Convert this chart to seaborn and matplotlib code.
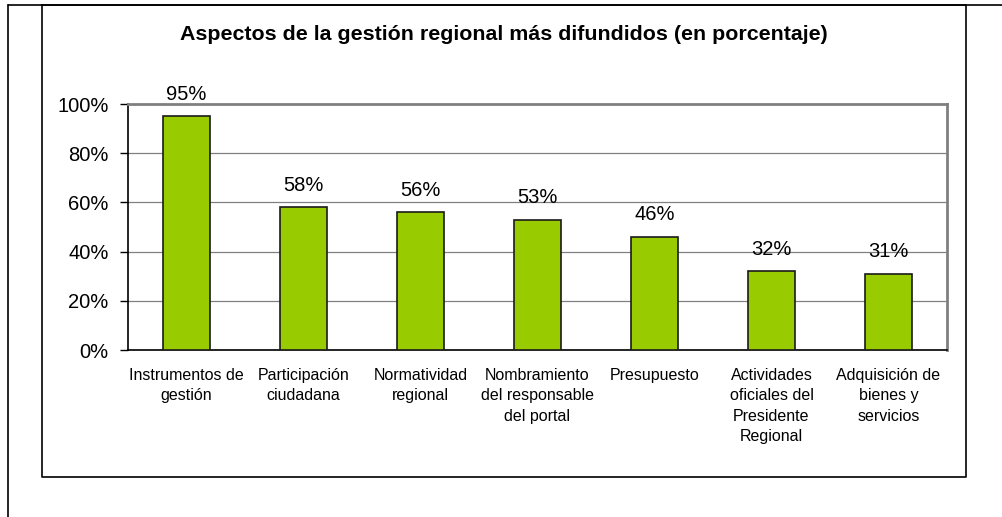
import numpy as np
import matplotlib
matplotlib.use('Agg')
import matplotlib.pyplot as plt
from matplotlib.lines import Line2D
import pandas as pd
import seaborn as sns

## datos
categorias = ['Instrumentos de\ngestión', 'Participación\nciudadana', 'Normatividad\nregional',
              'Nombramiento\ndel responsable\ndel portal', 'Presupuesto',
              'Actividades\noficiales del\nPresidente\nRegional', 'Adquisición de\nbienes y\nservicios']
porcentajes = [95, 58, 56, 53, 46, 32, 31]
yticks = [0, 20, 40, 60, 80, 100]
titulo = 'Aspectos de la gestión regional más difundidos (en porcentaje)'

df = pd.DataFrame({'cat': categorias, 'pct': porcentajes})

sns.set_theme(style='white')
plt.rcParams['font.family'] = ['Liberation Sans', 'DejaVu Sans']
plt.rcParams['text.color'] = 'black'
plt.rcParams['xtick.color'] = 'black'
plt.rcParams['ytick.color'] = 'black'

fig = plt.figure(figsize=(10.03, 5.17), dpi=100)
ax = fig.add_axes([128/1003, 1-350/517, (947-128)/1003, (350-104)/517])

sns.barplot(data=df, x='cat', y='pct', color='#99CC00', width=0.4, saturation=1,
            edgecolor='#1a1a1a', linewidth=1.2, ax=ax, zorder=3)

# etiquetas de valor
for i, v in enumerate(porcentajes):
    ax.annotate(f'{v}%', (i, v), xytext=(0, 9), textcoords='offset points',
                ha='center', va='bottom', fontsize=14.5, color='black')

ax.set_ylim(0, 100)
ax.set_xlim(-0.5, len(categorias) - 0.5)
ax.set_yticks(yticks)
ax.set_yticklabels([f'{t}%' for t in yticks], fontsize=14.5)
ax.set_xlabel('')
ax.set_ylabel('')
ax.tick_params(axis='x', which='major', length=0, labelsize=11.5, pad=13)
for lbl in ax.get_xticklabels():
    lbl.set_linespacing(1.45)
ax.set_xticks(np.arange(-0.5, len(categorias)), minor=True)
ax.tick_params(axis='x', which='minor', length=5, width=1, color='black', direction='out')
ax.tick_params(axis='y', length=6, width=1, color='black', direction='out', left=True, pad=8)
ax.grid(axis='y', color='#808080', linewidth=0.9, zorder=0)
ax.set_axisbelow(True)

for s in ['left', 'bottom']:
    ax.spines[s].set_color('black')
    ax.spines[s].set_linewidth(1.2)
for s in ['top', 'right']:
    ax.spines[s].set_color('#808080')
    ax.spines[s].set_linewidth(2)

fig.text(504/1003, 1-35/517, titulo, ha='center', va='center', fontsize=15.4,
         fontweight='bold', color='black')

# marcos
x0, x1 = 42/1003, 966/1003
y0, y1 = 1-477/517, 1-5/517
for xs, ys in [([x0, x1, x1, x0, x0], [y1, y1, y0, y0, y1]),
               ([8/1003, 8/1003], [0, y1]),
               ([8/1003, 1.0], [y1, y1])]:
    fig.add_artist(Line2D(xs, ys, color='black', linewidth=1.2, transform=fig.transFigure))

fig.savefig('out.png', dpi=100)
